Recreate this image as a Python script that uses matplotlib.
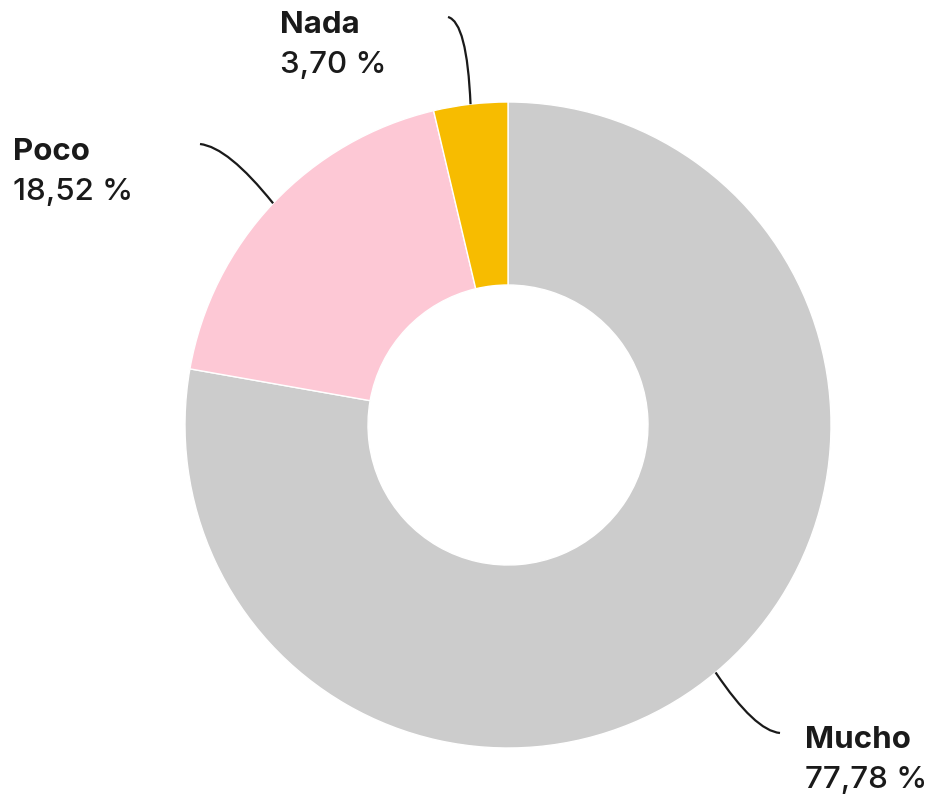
import matplotlib.pyplot as plt
import numpy as np
from matplotlib.path import Path
from matplotlib.patches import PathPatch

# datos
categorias = ['Mucho', 'Poco', 'Nada']
valores = [77.78, 18.52, 3.70]
colores = ['#cccccc', '#fdc8d5', '#f7bc00']

W, H = 927, 799
fig = plt.figure(figsize=(W / 100, H / 100), dpi=100)
ax = fig.add_axes([0, 0, 1, 1])

cx, cy = 508, H - 425
R = 323
ancho = 183

ax.pie(valores, colors=colores, startangle=90, counterclock=False,
       center=(cx, cy), radius=R,
       wedgeprops=dict(width=ancho, edgecolor='white', linewidth=1))

ax.set_xlim(0, W)
ax.set_ylim(0, H)
ax.set_aspect('equal')
ax.axis('off')

# angulo medio de cada porcion
total = sum(valores)
acum = np.cumsum([0] + valores[:-1])
medios = [90 - (a + v / 2) / total * 360 for a, v in zip(acum, valores)]

# etiquetas: (control de la curva, final de la linea, posicion del texto)
etiquetas = {
    'Mucho': ((755, 731), (780, 733), (805, 748)),
    'Poco': ((228, 147), (200, 144), (13, 160)),
    'Nada': ((467, 22), (448, 17), (280, 33)),
}

for cat, val, ang in zip(categorias, valores, medios):
    ctrl, fin, txt = etiquetas[cat]
    x0 = cx + R * np.cos(np.radians(ang))
    y0 = cy + R * np.sin(np.radians(ang))
    p = Path([(x0, y0), (ctrl[0], H - ctrl[1]), (fin[0], H - fin[1])],
             [Path.MOVETO, Path.CURVE3, Path.CURVE3])
    ax.add_patch(PathPatch(p, fc='none', ec='#1a1a1a', lw=1.6))
    ax.text(txt[0], H - txt[1], cat, fontsize=22.5, fontweight='bold',
            family='Inter', color='#1a1a1a', va='baseline')
    ax.text(txt[0], H - txt[1] - 40, f'{val:.2f} %'.replace('.', ','),
            fontsize=22.5, fontweight='medium', family='Inter',
            color='#1a1a1a', va='baseline')

fig.savefig('out.png', dpi=100)
